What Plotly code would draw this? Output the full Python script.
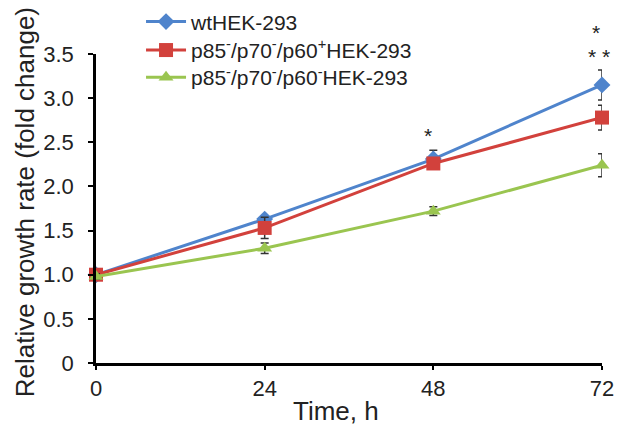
import plotly.graph_objects as go

time_h = [0, 24, 48, 72]
wt_vals = [1.0, 1.63, 2.31, 3.15]
wt_err = [0.02, 0.03, 0.10, 0.17]
pos_vals = [1.0, 1.53, 2.26, 2.78]
pos_err = [0.03, 0.12, 0.05, 0.14]
neg_vals = [0.98, 1.30, 1.72, 2.24]
neg_err = [0.03, 0.06, 0.05, 0.13]

names = ["wtHEK-293",
         "p85<sup>-</sup>/p70<sup>-</sup>/p60<sup>+</sup>HEK-293",
         "p85<sup>-</sup>/p70<sup>-</sup>/p60<sup>-</sup>HEK-293"]
colors = ["#4f84cc", "#d2413c", "#9ac550"]
symbols = ["diamond", "square", "triangle-up"]
sizes = [13, 14, 13]
legend_ids = ["legend", "legend2", "legend3"]
legend_y = [1.170, 1.078, 0.990]

y_ticks = [0, 0.5, 1.0, 1.5, 2.0, 2.5, 3.0, 3.5]
y_ticktext = ["0", "0.5", "1.0", "1.5", "2.0", "2.5", "3.0", "3.5"]

# significance marks: (x value, y value, text)
sig_x = [48, 72, 72]
sig_y = [2.58, 3.73, 3.47]
sig_text = ["*", "*", "* *"]
sig_xshift = [-5, 0, -3]

FONT = "Liberation Sans, Arial, sans-serif"
Y_MAX = 3.5

fig = go.Figure()
for vals, errs, name, col, sym, sz, lid in zip([wt_vals, pos_vals, neg_vals],
                                               [wt_err, pos_err, neg_err],
                                               names, colors, symbols, sizes,
                                               legend_ids):
    fig.add_trace(go.Scatter(
        x=time_h, y=vals, name=name, mode="lines+markers",
        line=dict(color=col, width=3),
        marker=dict(symbol=sym, size=sz, color=col),
        error_y=dict(type="data", array=errs, visible=True,
                     color="#333333", thickness=1.5, width=4),
        cliponaxis=False, legend=lid,
    ))

for x, y, t, xs in zip(sig_x, sig_y, sig_text, sig_xshift):
    if y <= Y_MAX:
        fig.add_annotation(x=x, y=y, text=t, showarrow=False, xshift=xs,
                           font=dict(size=21, color="#222222", family=FONT))
    else:
        # above the axis range: place relative to the top of the y axis
        fig.add_annotation(xref="x domain", yref="y domain",
                           x=x / time_h[-1], y=1.0, text=t,
                           showarrow=False, xshift=xs,
                           yanchor="middle", yshift=22,
                           font=dict(size=21, color="#222222", family=FONT))

# axis titles as annotations
fig.add_annotation(xref="paper", yref="paper", x=-0.140, y=0.521,
                   text="Relative growth rate (fold change)", textangle=-90,
                   showarrow=False, xanchor="center", yanchor="middle",
                   font=dict(size=26, color="#222222", family=FONT))
fig.add_annotation(xref="paper", yref="paper", x=0.475, y=-0.155,
                   text="Time, h", showarrow=False,
                   xanchor="center", yanchor="middle",
                   font=dict(size=26, color="#222222", family=FONT))

legend_common = dict(x=0.089, xanchor="left", yanchor="top",
                     bgcolor="rgba(0,0,0,0)", font=dict(size=21, color="#222222"),
                     itemwidth=40)

fig.update_layout(
    width=614, height=419,
    margin=dict(l=88, r=20, t=46, b=64, autoexpand=False),
    paper_bgcolor="white", plot_bgcolor="white",
    font=dict(family=FONT, size=22, color="#222222"),
    showlegend=True,
    legend=dict(y=legend_y[0], **legend_common),
    legend2=dict(y=legend_y[1], **legend_common),
    legend3=dict(y=legend_y[2], **legend_common),
)
fig.update_xaxes(
    range=[0, 72], tickvals=time_h, ticktext=[str(t) for t in time_h],
    showline=True, linecolor="black", linewidth=2.5,
    ticks="outside", ticklen=4, tickwidth=2, tickcolor="black",
    showgrid=False, zeroline=False, automargin=False,
    ticklabelstandoff=0,
)
fig.update_yaxes(
    range=[0, Y_MAX],
    tickvals=y_ticks, ticktext=y_ticktext,
    showline=True, linecolor="black", linewidth=2.5,
    ticks="outside", ticklen=5, tickwidth=2, tickcolor="black",
    showgrid=False, zeroline=False, automargin=False,
    ticklabelstandoff=10,
)

fig.write_html("out.html")
